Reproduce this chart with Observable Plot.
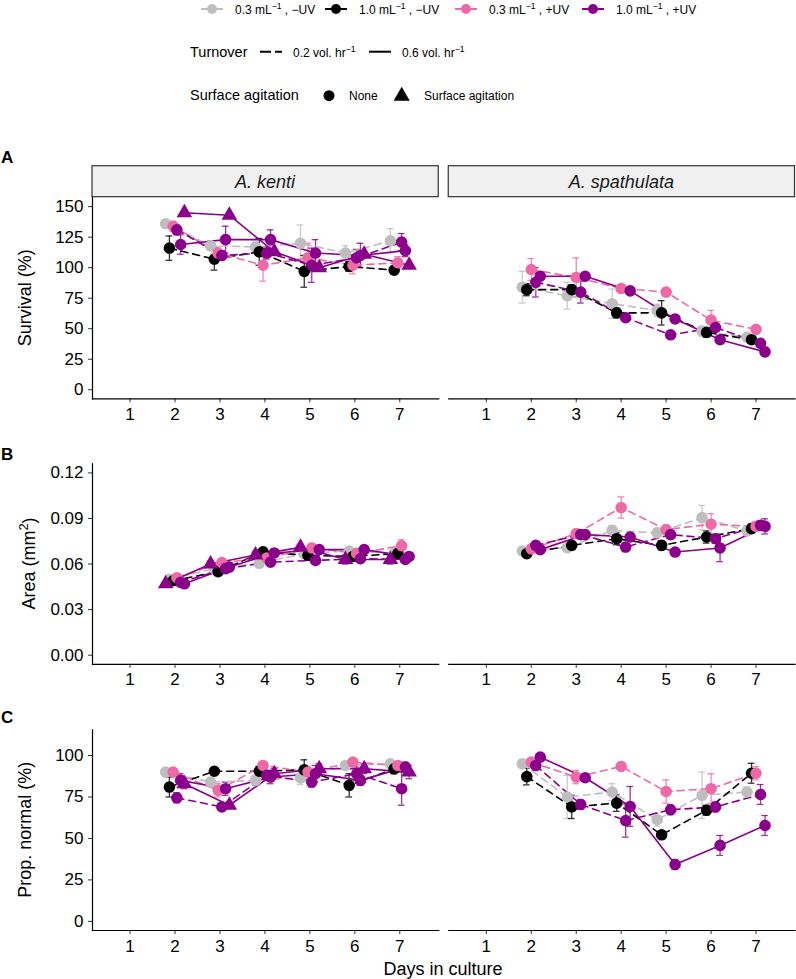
<!DOCTYPE html>
<html>
<head>
<meta charset="utf-8">
<script src="https://cdn.jsdelivr.net/npm/d3@7"></script>
<script src="https://cdn.jsdelivr.net/npm/@observablehq/plot@0.6"></script>
<style>
  body { margin: 0; background: #fff; }
  #fig { position: relative; width: 796px; height: 979px; overflow: hidden;
         font-family: "Liberation Sans", Arial, sans-serif; }
  #fig > svg { position: absolute; left: 0; }
</style>
</head>
<body>
<div id="fig"></div>
<script>
// ---- categories -----------------------------------------------------------
const days = [2, 3, 4, 5, 6, 7];
const dayTicks = [1, 2, 3, 4, 5, 6, 7];
const species = ["A. kenti", "A. spathulata"];

// treatment (density x UV) -> colour
const treatmentKeys = ["0.3 -UV", "1.0 -UV", "0.3 +UV", "1.0 +UV"];
const treatmentDensity = ["0.3", "1.0", "0.3", "1.0"];
const treatmentUV = ["−UV", "−UV", "+UV", "+UV"];
const treatmentColors = ["#BEBEBE", "#000000", "#EE6AA7", "#8B008B"];

// culture series: treatment, turnover (vol. hr-1), surface agitation
const seriesIds = ["S1", "S2", "S3", "S4", "S5", "S6"];
const seriesTreatment = [0, 1, 2, 3, 3, 3];
const seriesTurnover = ["0.2", "0.2", "0.2", "0.2", "0.6", "0.6"];
const seriesAgitation = ["None", "None", "None", "None", "None", "Surface agitation"];

// ---- survival (%) ---------------------------------------------------------
const survKenti = [
  [136, 118, 117, 120, 112, 122],
  [116, 107, 113, 97, 101, 98],
  [134, 112, 102, 108, 102, 104],
  [131, 110, 112, 102, 108, 121],
  [119, 123, 123, 112, 110, 114],
  [145, 143, 113, 100, 111, 102]
];
const survKentiSE = [
  [3, 4, 4, 15, 6, 10],
  [10, 9, 11, 13, 4, 3],
  [4, 5, 13, 12, 7, 5],
  [4, 4, 5, 14, 7, 7],
  [8, 11, 8, 11, 10, 5],
  [1, 1, 2, 2, 2, 1]
];
const survSpath = [
  [84, 77, 70.5, 65, 48, 43],
  [82, 82, 63, 63, 47, 41],
  [98.5, 92, 83, 80, 57, 49.5],
  [88, 80, 59, 45, 51, 38],
  [93, 93, 81, 58, 41, 31]
];
const survSpathSE = [
  [13, 11, 12, 5, 4, 3],
  [5, 4, 4, 10, 4, 3],
  [9, 16, 3, 3, 8, 2],
  [12, 9, 3, 2, 3, 3],
  [3, 2, 2, 2, 2, 3]
];

// ---- area (mm2) -----------------------------------------------------------
const areaKenti = [
  [0.050, 0.057, 0.0605, 0.067, 0.0686, 0.067],
  [0.049, 0.055, 0.068, 0.0657, 0.065, 0.067],
  [0.051, 0.061, 0.064, 0.0706, 0.067, 0.072],
  [0.048, 0.057, 0.0613, 0.0624, 0.0635, 0.063],
  [0.047, 0.058, 0.0673, 0.0695, 0.0695, 0.065],
  [0.047, 0.060, 0.066, 0.071, 0.063, 0.063]
];
const areaKentiSE = [
  [0.002, 0.002, 0.002, 0.003, 0.002, 0.002],
  [0.002, 0.002, 0.002, 0.003, 0.002, 0.003],
  [0.002, 0.002, 0.002, 0.002, 0.002, 0.004],
  [0.002, 0.002, 0.002, 0.002, 0.002, 0.002],
  [0.002, 0.002, 0.002, 0.002, 0.002, 0.002],
  [0.001, 0.002, 0.002, 0.002, 0.003, 0.003]
];
const areaSpath = [
  [0.0686, 0.0708, 0.0822, 0.0805, 0.0906, 0.0818],
  [0.0668, 0.0723, 0.0767, 0.0723, 0.0778, 0.0833],
  [0.0700, 0.0800, 0.0972, 0.0827, 0.0862, 0.0848],
  [0.0723, 0.0794, 0.0712, 0.0794, 0.0767, 0.0855],
  [0.0695, 0.0794, 0.0778, 0.0679, 0.0706, 0.0848]
];
const areaSpathSE = [
  [0.002, 0.002, 0.003, 0.003, 0.008, 0.003],
  [0.002, 0.002, 0.004, 0.003, 0.004, 0.003],
  [0.002, 0.002, 0.007, 0.003, 0.007, 0.003],
  [0.002, 0.002, 0.003, 0.002, 0.003, 0.003],
  [0.002, 0.002, 0.002, 0.002, 0.009, 0.005]
];

// ---- proportion normal (%) ------------------------------------------------
const normKenti = [
  [90, 84, 85, 86.5, 94, 95],
  [81, 90.5, 90.5, 91.4, 82, 92],
  [90, 79, 94, 90, 96, 94],
  [74.5, 69, 88, 84, 89, 80],
  [85, 80, 87, 89, 85, 93],
  [83, 70, 89, 92, 92, 90]
];
const normKentiSE = [
  [2, 2, 3, 4, 2, 2],
  [6, 2, 3, 6, 7, 3],
  [2, 4, 2, 3, 2, 2],
  [3, 2, 3, 3, 4, 10],
  [4, 4, 4, 5, 3, 3],
  [3, 2, 3, 3, 3, 4]
];
const normSpath = [
  [95, 75, 78, 61.3, 76, 78],
  [87.3, 69, 71.3, 52.2, 67, 89.3],
  [96, 87, 93.4, 78.3, 80, 89.3],
  [94, 70.5, 60.8, 67.3, 69, 76.5],
  [99, 86.6, 69.3, 34.3, 45.8, 57.8]
];
const normSpathSE = [
  [2, 13, 5, 4, 14, 3],
  [5, 7, 5, 2, 3, 6],
  [2, 4, 2, 7, 9, 4],
  [3, 3, 10, 3, 3, 6],
  [2, 2, 12, 3, 6, 6]
];

// dodge order of the series within each panel
const orderKenti = ["S1", "S2", "S3", "S4", "S5", "S6"];
const orderKentiArea = ["S6", "S1", "S2", "S3", "S4", "S5"];
const orderSpath = ["S1", "S2", "S3", "S4", "S5"];

// ---- tidy rows --------------------------------------------------------------
const DODGE = 0.5;
function buildRows(sp, values, errs, order) {
  const n = order.length;
  return values.flatMap((vals, i) => days.map((d, j) => {
    const id = seriesIds[i];
    return {
      species: sp, id, day: d, value: vals[j], err: errs[i][j],
      xo: d + DODGE * ((order.indexOf(id) + 0.5) / n - 0.5),
      treatment: treatmentKeys[seriesTreatment[i]],
      turnover: seriesTurnover[i],
      agitation: seriesAgitation[i]
    };
  }));
}

const survivalRows = [
  ...buildRows(species[0], survKenti, survKentiSE, orderKenti),
  ...buildRows(species[1], survSpath, survSpathSE, orderSpath)
];
const areaRows = [
  ...buildRows(species[0], areaKenti, areaKentiSE, orderKentiArea),
  ...buildRows(species[1], areaSpath, areaSpathSE, orderSpath)
];
const normalRows = [
  ...buildRows(species[0], normKenti, normKentiSE, orderKenti),
  ...buildRows(species[1], normSpath, normSpathSE, orderSpath)
];

// ---- one faceted row of panels --------------------------------------------
const FONT = "'Liberation Sans', Arial, sans-serif";
const CAP = 0.075;

function panelRow(rows, o) {
  const dashed = rows.filter(d => d.turnover === "0.2");
  const solid = rows.filter(d => d.turnover === "0.6");
  const common = {fx: "species", x: "xo", stroke: "treatment"};
  const chart = Plot.plot({
    width: 796, height: o.height,
    marginLeft: 92, marginRight: 1.5, marginTop: o.marginTop, marginBottom: o.marginBottom,
    style: {fontFamily: FONT, fontSize: "17px", color: "black", background: "transparent", overflow: "visible"},
    fx: {domain: species, paddingInner: 0.0281, paddingOuter: 0, axis: null, round: false, label: null},
    x: {domain: [0.164, 7.867]},
    y: {domain: o.yDomain},
    color: {domain: treatmentKeys, range: treatmentColors},
    symbol: {domain: ["None", "Surface agitation"], range: ["circle", "triangle"]},
    marks: [
      Plot.axisX({ticks: dayTicks, tickSize: 4, tickPadding: 5, stroke: "#333", fill: "black", label: null, fontSize: 17}),
      Plot.axisY({ticks: o.yTicks, tickFormat: o.yFormat, tickSize: 4, tickPadding: 5, stroke: "#333", fill: "black", label: null, fontSize: 17}),
      Plot.ruleX(rows, {...common, y1: d => d.value - d.err, y2: d => d.value + d.err, strokeWidth: 1.3, strokeOpacity: 0.8}),
      Plot.ruleY(rows, {fx: "species", y: d => d.value + d.err, x1: d => d.xo - CAP, x2: d => d.xo + CAP, stroke: "treatment", strokeWidth: 1.3, strokeOpacity: 0.8}),
      Plot.ruleY(rows, {fx: "species", y: d => d.value - d.err, x1: d => d.xo - CAP, x2: d => d.xo + CAP, stroke: "treatment", strokeWidth: 1.3, strokeOpacity: 0.8}),
      Plot.line(dashed, {...common, y: "value", z: "id", strokeWidth: 1.6, strokeDasharray: "7,5"}),
      Plot.line(solid, {...common, y: "value", z: "id", strokeWidth: 1.6}),
      Plot.dot(rows, {fx: "species", x: "xo", y: "value", fill: "treatment", symbol: "agitation", r: 5.8}),
      Plot.frame({anchor: "left", facetAnchor: "left", stroke: "black", strokeWidth: 1.2}),
      Plot.frame({anchor: "bottom", stroke: "black", strokeWidth: 1.2})
    ]
  });
  chart.style.top = o.top + "px";
  return chart;
}

const fig = d3.select("#fig");

const chartA = panelRow(survivalRows, {
  top: 160, height: 270, marginTop: 37, marginBottom: 31.6,
  yDomain: [-7.5, 157.5], yTicks: [0, 25, 50, 75, 100, 125, 150], yFormat: d3.format("d")
});
const chartB = panelRow(areaRows, {
  top: 440, height: 260, marginTop: 23.3, marginBottom: 36.2,
  yDomain: [-0.006, 0.126], yTicks: [0, 0.03, 0.06, 0.09, 0.12], yFormat: d3.format(".2f")
});
const chartC = panelRow(normalRows, {
  top: 710, height: 260, marginTop: 19.3, marginBottom: 40,
  yDomain: [-5.5, 115.5], yTicks: [0, 25, 50, 75, 100], yFormat: d3.format("d")
});
fig.node().append(chartA, chartB, chartC);

// facet strips above the survival panels
const fxA = chartA.scale("fx");
const strips = d3.select(chartA).append("g");
species.forEach(sp => {
  const x0 = fxA.apply(sp), w = fxA.bandwidth;
  strips.append("rect").attr("x", x0).attr("y", 5.7).attr("width", w).attr("height", 31)
    .attr("fill", "#F0F0F0").attr("stroke", "#333").attr("stroke-width", 1.2);
  strips.append("text").attr("x", x0 + w / 2).attr("y", 27.5).attr("text-anchor", "middle")
    .attr("font-style", "italic").attr("font-size", 18).attr("fill", "#1a1a1a").text(sp);
});

// ---- titles, panel letters and legend --------------------------------------
const ov = fig.append("svg").attr("width", 796).attr("height", 979)
  .style("top", "0px").style("pointer-events", "none")
  .attr("font-family", FONT);

function richText(g, x, y, size, parts, attrs = {}) {
  const t = g.append("text").attr("x", x).attr("y", y).attr("font-size", size).attr("fill", "black");
  Object.entries(attrs).forEach(([k, v]) => t.attr(k, v));
  parts.forEach(p => {
    if (typeof p === "string") t.append("tspan").text(p);
    else t.append("tspan").attr("font-size", size * 0.72).attr("baseline-shift", "super").text(p.sup);
  });
  return t;
}

// panel letters
[["A", 162.5], ["B", 459.5], ["C", 723]].forEach(([l, y]) =>
  ov.append("text").attr("x", 1).attr("y", y).attr("font-size", 17).attr("font-weight", "bold").text(l));

// y axis titles
richText(ov, 0, 0, 18, ["Survival (%)"], {"text-anchor": "middle", transform: "translate(31,297.7) rotate(-90)"});
richText(ov, 0, 0, 18, ["Area (mm", {sup: "2"}, ")"], {"text-anchor": "middle", transform: "translate(35,563.5) rotate(-90)"});
richText(ov, 0, 0, 18, ["Prop. normal (%)"], {"text-anchor": "middle", transform: "translate(31,829.7) rotate(-90)"});
// x axis title
richText(ov, 443, 975, 18, ["Days in culture"], {"text-anchor": "middle"});

// legend: treatment colours
const legendCx = [212, 336, 466, 593];
treatmentKeys.forEach((k, i) => {
  const cx = legendCx[i], cy = 9;
  ov.append("line").attr("x1", cx - 11).attr("x2", cx + 11).attr("y1", cy).attr("y2", cy)
    .attr("stroke", treatmentColors[i]).attr("stroke-width", 2);
  ov.append("circle").attr("cx", cx).attr("cy", cy).attr("r", 5).attr("fill", treatmentColors[i]);
  richText(ov, cx + 23, 13.5, 12, [treatmentDensity[i] + " mL", {sup: "−1"}, " , " + treatmentUV[i]]);
});

// legend: turnover line types
richText(ov, 190, 57, 14.5, ["Turnover"]);
ov.append("line").attr("x1", 260).attr("x2", 282).attr("y1", 51.7).attr("y2", 51.7)
  .attr("stroke", "black").attr("stroke-width", 2).attr("stroke-dasharray", "11,4");
richText(ov, 293, 56.5, 12, ["0.2 vol. hr", {sup: "−1"}]);
ov.append("line").attr("x1", 369).attr("x2", 391).attr("y1", 51.7).attr("y2", 51.7)
  .attr("stroke", "black").attr("stroke-width", 2);
richText(ov, 402, 56.5, 12, ["0.6 vol. hr", {sup: "−1"}]);

// legend: surface agitation symbols
richText(ov, 190, 100, 14.5, ["Surface agitation"]);
ov.append("path").attr("d", d3.symbol(d3.symbolCircle, Math.PI * 30)()).attr("transform", "translate(329,95.7)");
richText(ov, 349, 100, 12, ["None"]);
ov.append("path").attr("d", d3.symbol(d3.symbolTriangle, Math.PI * 36)()).attr("transform", "translate(401.7,96)");
richText(ov, 424, 100, 12, ["Surface agitation"]);
</script>
</body>
</html>
